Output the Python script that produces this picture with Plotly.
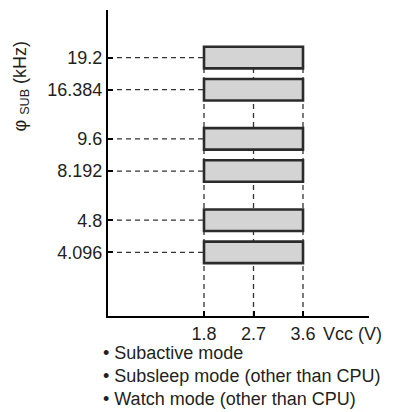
import plotly.graph_objects as go

# supply voltage range for each sub-clock frequency
freq_labels = ["4.096", "4.8", "8.192", "9.6", "16.384", "19.2"]
v_min = [1.8, 1.8, 1.8, 1.8, 1.8, 1.8]
v_max = [3.6, 3.6, 3.6, 3.6, 3.6, 3.6]
v_ticks = [1.8, 2.7, 3.6]
notes = ["Subactive mode", "Subsleep mode (other than CPU)", "Watch mode (other than CPU)"]

FONT = "Liberation Sans, Arial, Helvetica, sans-serif"
INK = "#231f20"
FS = 18

# rows come in pairs, pairs are spread a bit further apart
rows = [(i // 2) * 2.53 + (i % 2) for i in range(len(freq_labels))]
y_lo, y_hi = -1.98, 7.54
x_lo, x_hi = 0.0545, 4.8

fig = go.Figure()
fig.add_trace(go.Bar(
    y=rows,
    x=[b - a for a, b in zip(v_min, v_max)],
    base=v_min,
    orientation="h",
    width=0.67,
    marker=dict(color="#d4d4d4", line=dict(color="#2b2b2b", width=2.6)),
    hoverinfo="skip",
))

shapes = []
# horizontal dashed guides from the axis to the left edge of each bar
for r, a in zip(rows, v_min):
    shapes.append(dict(type="line", xref="x", yref="y", x0=x_lo, x1=a, y0=r, y1=r,
                       line=dict(color="#333333", width=1.3, dash="5px,4px"), layer="below"))
# vertical dashed guides at each voltage tick
for v in v_ticks:
    shapes.append(dict(type="line", xref="x", yref="y", x0=v, x1=v, y0=y_lo, y1=max(rows),
                       line=dict(color="#333333", width=1.3, dash="5px,4px"), layer="below"))

annotations = [
    dict(text="φ <sub>SUB</sub> (kHz)", textangle=-90, xref="paper", yref="paper",
         x=-0.331, y=0.752, xanchor="center", yanchor="middle", showarrow=False,
         font=dict(size=FS, color=INK, family=FONT)),
    dict(text="Vcc (V)", xref="paper", yref="paper", x=0.817, y=-0.058,
         xanchor="left", yanchor="middle", showarrow=False,
         font=dict(size=FS, color=INK, family=FONT)),
]
for i, n in enumerate(notes):
    annotations.append(dict(text="• " + n, xref="paper", yref="paper",
                            x=-0.027, y=-0.12 - i * 0.075, xanchor="left", yanchor="middle",
                            showarrow=False, font=dict(size=FS, color=INK, family=FONT)))

fig.update_layout(
    width=387, height=404,
    margin=dict(l=100, r=26, t=2, b=95.5),
    paper_bgcolor="white", plot_bgcolor="white",
    showlegend=False,
    font=dict(family=FONT, size=FS, color=INK),
    shapes=shapes,
    annotations=annotations,
    xaxis=dict(range=[x_lo, x_hi], showgrid=False, zeroline=False,
               showline=True, linecolor="black", linewidth=2.2,
               ticks="inside", ticklen=5, tickwidth=2, tickcolor="black",
               tickvals=v_ticks, ticktext=[f"{v:.1f}" for v in v_ticks]),
    yaxis=dict(range=[y_lo, y_hi], showgrid=False, zeroline=False,
               showline=True, linecolor="black", linewidth=2.2,
               ticks="inside", ticklen=5, tickwidth=2, tickcolor="black",
               tickvals=rows, ticktext=freq_labels),
)

fig.write_html("out.html")
